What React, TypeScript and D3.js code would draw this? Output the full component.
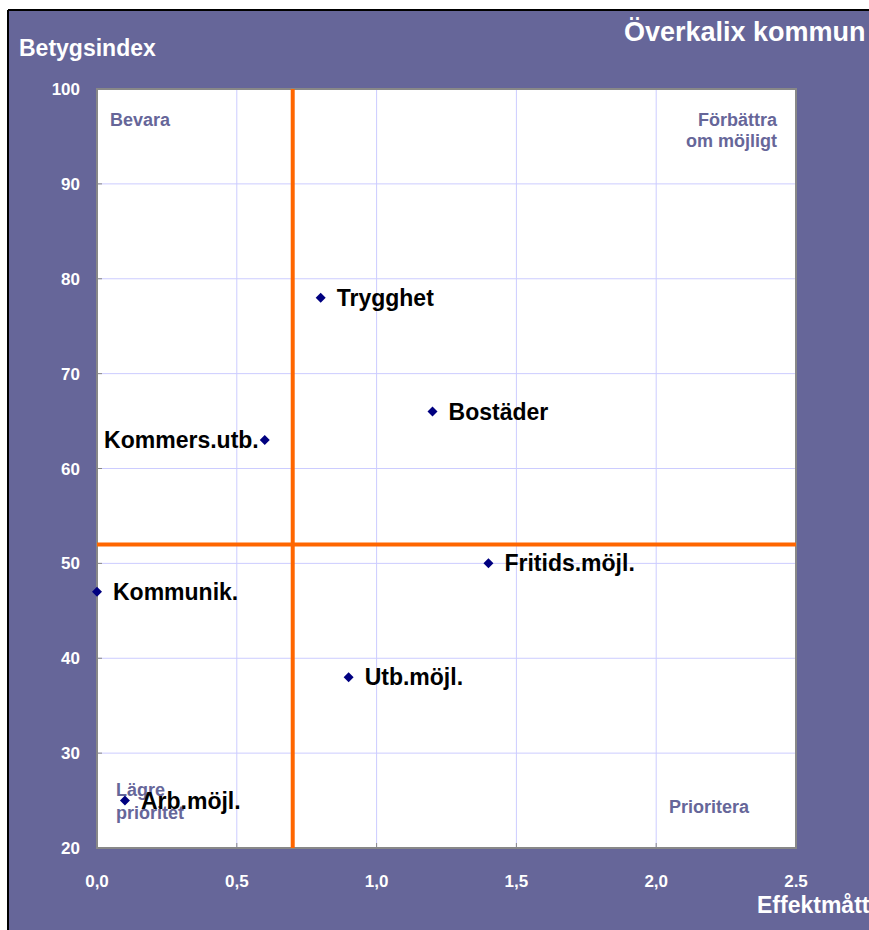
import React from 'react';
import * as d3 from 'd3';

const W = 869;
const H = 930;

// data
const labels = ['Trygghet', 'Bostäder', 'Kommers.utb.', 'Fritids.möjl.', 'Kommunik.', 'Utb.möjl.', 'Arb.möjl.'];
const effekt = [0.8, 1.2, 0.6, 1.4, 0.0, 0.9, 0.1];
const betyg = [78, 66, 63, 50, 47, 38, 25];
const labelSide = ['right', 'right', 'left', 'right', 'right', 'right', 'right'];

const xTicks = [0, 0.5, 1.0, 1.5, 2.0, 2.5];
const xTickLabels = ['0,0', '0,5', '1,0', '1,5', '2,0', '2.5'];
const yTicks = [20, 30, 40, 50, 60, 70, 80, 90, 100];

const xCut = 0.7;
const yCut = 52;

const purple = '#666699';
const font = 'Arial, "Liberation Sans", sans-serif';

export default function App() {
  const plot = { left: 97, right: 796, top: 89, bottom: 848 };

  const x = d3.scaleLinear().domain([0, 2.5]).range([plot.left, plot.right]);
  const y = d3.scaleLinear().domain([20, 100]).range([plot.bottom, plot.top]);

  const diamond = d3.symbol(d3.symbolSquare, 50)();

  return (
    <svg width={W} height={H} style={{ position: 'absolute', left: 0, top: 0 }} fontFamily={font}>
      <rect x={0} y={0} width={W} height={H} fill="#fff" />
      <rect x={8} y={10} width={W} height={H} fill={purple} />
      <line x1={8} y1={10} x2={W} y2={10} stroke="#000" strokeWidth={2} />
      <line x1={8} y1={10} x2={8} y2={H} stroke="#000" strokeWidth={2} />

      {/* plot area */}
      <rect x={plot.left} y={plot.top} width={plot.right - plot.left} height={plot.bottom - plot.top}
        fill="#fff" />

      {/* grid */}
      {xTicks.slice(1, -1).map(t => (
        <line key={'gx' + t} x1={x(t)} x2={x(t)} y1={plot.top} y2={plot.bottom} stroke="#ccccff" strokeWidth={1} />
      ))}
      {yTicks.slice(1, -1).map(t => (
        <line key={'gy' + t} x1={plot.left} x2={plot.right} y1={y(t)} y2={y(t)} stroke="#ccccff" strokeWidth={1} />
      ))}

      {/* small inside ticks */}
      {yTicks.map(t => (
        <line key={'ky' + t} x1={plot.left} x2={plot.left + 5} y1={y(t)} y2={y(t)} stroke="#888" strokeWidth={1} />
      ))}
      {xTicks.map(t => (
        <line key={'kx' + t} x1={x(t)} x2={x(t)} y1={plot.bottom} y2={plot.bottom - 5} stroke="#888" strokeWidth={1} />
      ))}

      <rect x={plot.left} y={plot.top} width={plot.right - plot.left} height={plot.bottom - plot.top}
        fill="none" stroke="#888" strokeWidth={2} />

      {/* quadrant lines */}
      <line x1={x(xCut)} x2={x(xCut)} y1={plot.top} y2={plot.bottom} stroke="#ff6600" strokeWidth={4} />
      <line x1={plot.left} x2={plot.right} y1={y(yCut)} y2={y(yCut)} stroke="#ff6600" strokeWidth={4} />

      {/* axis labels */}
      {yTicks.map(t => (
        <text key={'ty' + t} x={80} y={y(t) + 6} textAnchor="end" fill="#fff" fontWeight="bold" fontSize={17}>{t}</text>
      ))}
      {xTicks.map((t, i) => (
        <text key={'tx' + t} x={x(t)} y={887} textAnchor="middle" fill="#fff" fontWeight="bold" fontSize={17}>{xTickLabels[i]}</text>
      ))}

      <text x={19} y={56} fill="#fff" fontWeight="bold" fontSize={23}>Betygsindex</text>
      <text x={624} y={41} fill="#fff" fontWeight="bold" fontSize={27}>Överkalix kommun</text>
      <text x={757} y={913} fill="#fff" fontWeight="bold" fontSize={23}>Effektmått</text>

      {/* quadrant names */}
      <g fill={purple} fontWeight="bold" fontSize={18}>
        <text x={110} y={126}>Bevara</text>
        <text x={777} y={126} textAnchor="end">Förbättra</text>
        <text x={777} y={147} textAnchor="end">om möjligt</text>
        <text x={669} y={813}>Prioritera</text>
        <text x={116} y={796}>Lägre</text>
        <text x={116} y={819}>prioritet</text>
      </g>

      {/* points */}
      {labels.map((name, i) => (
        <g key={name} transform={`translate(${x(effekt[i])},${y(betyg[i])})`}>
          <path d={diamond} transform="rotate(45)" fill="#000080" />
          <text x={labelSide[i] === 'left' ? -6 : 16} y={8} textAnchor={labelSide[i] === 'left' ? 'end' : 'start'}
            fill="#000" fontWeight="bold" fontSize={23}>{name}</text>
        </g>
      ))}
    </svg>
  );
}
